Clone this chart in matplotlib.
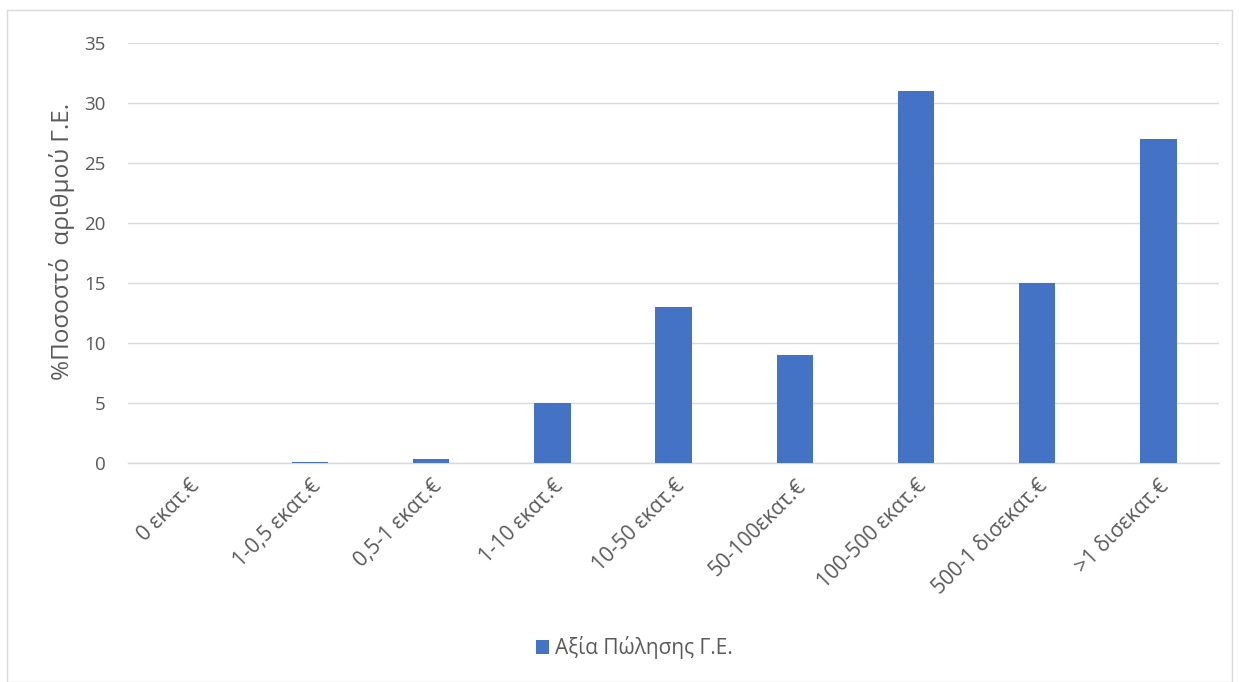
import matplotlib
matplotlib.use("Agg")
import matplotlib.pyplot as plt
from matplotlib.patches import Rectangle

categories = ["0 εκατ.€", "1-0,5 εκατ.€", "0,5-1 εκατ.€", "1-10 εκατ.€", "10-50 εκατ.€",
              "50-100εκατ.€", "100-500 εκατ.€", "500-1 δισεκατ.€", ">1 δισεκατ.€"]
values = [0, 0.1, 0.3, 5, 13, 9, 31, 15, 27]
y_ticks = [0, 5, 10, 15, 20, 25, 30, 35]
series_name = "Αξία Πώλησης Γ.Ε."
y_label = "%Ποσοστό  αριθμού Γ.Ε."

plt.rcParams["font.family"] = ["Open Sans", "DejaVu Sans"]

fig = plt.figure(figsize=(12.39, 6.82), dpi=100)
ax = fig.add_axes([0.1033, 0.321, 0.8807, 0.616])

bar_color = "#4472C4"
text_color = "#595959"
x = list(range(len(categories)))
bars = ax.bar(x, values, width=0.3, color=bar_color, label=series_name, zorder=3)

ax.set_xlim(-0.5, len(categories) - 0.5)
ax.set_ylim(0, 35)
ax.set_yticks(y_ticks)
ax.yaxis.grid(True, color="#d9d9d9", linewidth=1, zorder=0)
for s in ["top", "right", "left"]:
    ax.spines[s].set_visible(False)
ax.spines["bottom"].set_color("#d9d9d9")
ax.spines["bottom"].set_linewidth(1)
ax.tick_params(axis="both", length=0, colors=text_color)
ax.tick_params(axis="y", pad=16, labelsize=13.5)
ax.set_xticks(x)
ax.set_xticklabels(categories, rotation=45, ha="right", rotation_mode="anchor")
ax.tick_params(axis="x", pad=9, labelsize=15)
ax.set_ylabel(y_label, fontsize=17.5, color=text_color)
ax.yaxis.set_label_coords(-0.0485, 0.527)

fig.legend(handles=[bars], labels=[series_name], loc="center", bbox_to_anchor=(0.512, 0.05),
           frameon=False, fontsize=15, handlelength=0.6, handleheight=0.6, handletextpad=0.3,
           labelcolor=text_color)

fig.patches.append(Rectangle((7 / 1239, 0), (1232 - 7) / 1239, 1 - 10 / 682,
                             transform=fig.transFigure, fill=False,
                             edgecolor="#d9d9d9", linewidth=1))

fig.savefig("out.png", dpi=100)
